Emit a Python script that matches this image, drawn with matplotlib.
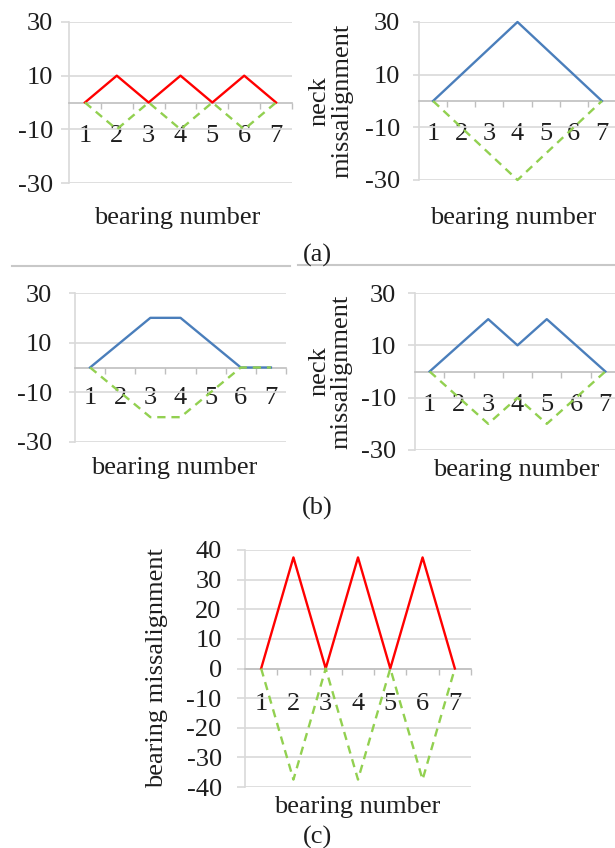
import numpy as np
import matplotlib
matplotlib.use("Agg")
from matplotlib import pyplot as plt
from matplotlib.lines import Line2D

plt.rcParams['font.family'] = ['Liberation Serif', 'DejaVu Serif']
plt.rcParams['axes.unicode_minus'] = False

# bearing positions along the shaft
bearings = [1, 2, 3, 4, 5, 6, 7]

# (a) alternating bearing offsets / single neck hump
a_left_up = [0, 10, 0, 10, 0, 10, 0]
a_left_down = [0, -10, 0, -10, 0, -10, 0]
a_right_up = [0, 10, 20, 30, 20, 10, 0]
a_right_down = [0, -10, -20, -30, -20, -10, 0]

# (b) flat-top and double-hump neck misalignment
b_left_up = [0, 10, 20, 20, 10, 0, 0]
b_left_down = [0, -10, -20, -20, -10, 0, 0]
b_right_up = [0, 10, 20, 10, 20, 10, 0]
b_right_down = [0, -10, -20, -10, -20, -10, 0]

# (c) large bearing misalignment
c_up = [0, 37.5, 0, 37.5, 0, 37.5, 0]
c_down = [0, -37.5, 0, -37.5, 0, -37.5, 0]

yticks_ab = [-30, -10, 10, 30]
yticks_c = [-40, -30, -20, -10, 0, 10, 20, 30, 40]

RED = '#FF0000'
BLUE = '#4A7EBB'
GREEN = '#92D050'
GRID = '#D9D9D9'
AXIS = '#BFBFBF'
TEXT = '#1E1E1E'
FS = 19

W, H = 615, 848


def add_axes_px(fig, left, top, right, bottom):
    """add an axes given its box in pixels measured from the top-left corner"""
    return fig.add_axes([left / W, 1 - bottom / H, (right - left) / W, (bottom - top) / H])


def style_axes(ax, yticks, ylim, ylen, ypad, xpad):
    """excel-like category chart: x axis crossing at zero, gridlines, outside ticks"""
    ax.set_xlim(0.5, 7.5)
    ax.set_ylim(*ylim)
    ax.set_yticks(yticks)
    ax.grid(axis='y', color=GRID, lw=1.2)
    ax.set_axisbelow(True)
    for side in ['top', 'right']:
        ax.spines[side].set_visible(False)
    ax.spines['bottom'].set_position(('data', 0))
    ax.spines['bottom'].set_color(AXIS)
    ax.spines['bottom'].set_linewidth(1.2)
    ax.spines['left'].set_color(GRID)
    ax.spines['left'].set_linewidth(1.2)
    ax.set_xticks(bearings)
    ax.set_xticks(np.arange(1.5, 8, 1), minor=True)
    ax.tick_params(axis='x', which='major', length=0, pad=xpad, labelsize=FS, labelcolor=TEXT)
    ax.tick_params(axis='x', which='minor', length=4.5, width=1.0, color=AXIS, direction='out')
    ax.tick_params(axis='y', length=ylen, width=1.2, color=GRID, pad=ypad, labelsize=FS, labelcolor=TEXT)


def draw_pair(ax, up, down, up_color):
    ax.plot(bearings, up, color=up_color, lw=1.7, zorder=3, clip_on=False)
    ax.plot(bearings, down, color=GREEN, lw=1.7, ls=(0, (3.5, 2.5)), zorder=4, clip_on=False)


def bearing_label(ax, x, y):
    ax.text(x, y, 'bearing number', transform=ax.transAxes, ha='center', va='center',
            fontsize=FS, color=TEXT)


def neck_label(ax, x, text):
    ax.text(x, 0.5, text, transform=ax.transAxes, ha='center', va='center', rotation=90,
            fontsize=FS, color=TEXT, linespacing=1.0)


fig = plt.figure(figsize=(W / 100, H / 100), dpi=100)

# (a)
ax = add_axes_px(fig, 69, 22, 292, 183)
style_axes(ax, yticks_ab, (-30, 30), 5.8, 5.8, 16)
draw_pair(ax, a_left_up, a_left_down, RED)
bearing_label(ax, 0.487, -0.217)

ax = add_axes_px(fig, 419, 22, 616, 180)
style_axes(ax, yticks_ab, (-30, 30), 4.3, 9.5, 16)
draw_pair(ax, a_right_up, a_right_down, BLUE)
bearing_label(ax, 0.477, -0.24)
neck_label(ax, -0.447, 'neck\nmissalignment')

# (b)
ax = add_axes_px(fig, 75, 293, 286, 442)
style_axes(ax, yticks_ab, (-30, 30), 4.3, 12, 14)
draw_pair(ax, b_left_up, b_left_down, BLUE)
bearing_label(ax, 0.469, -0.176)

ax = add_axes_px(fig, 415, 293, 620, 450)
style_axes(ax, yticks_ab, (-30, 30), 5, 8.5, 16)
draw_pair(ax, b_right_up, b_right_down, BLUE)
bearing_label(ax, 0.496, -0.128)
neck_label(ax, -0.413, 'neck\nmissalignment')

# (c)
ax = add_axes_px(fig, 245, 550, 471, 787)
style_axes(ax, yticks_c, (-40, 40), 5.8, 11, 18)
draw_pair(ax, c_up, c_down, RED)
bearing_label(ax, 0.498, -0.086)
neck_label(ax, -0.39, 'bearing missalignment')

# captions and separator rule under (a)
fig.text(317 / W, 1 - 255 / H, '(a)', ha='center', va='center', fontsize=FS, color=TEXT)
fig.text(317 / W, 1 - 508 / H, '(b)', ha='center', va='center', fontsize=FS, color=TEXT)
fig.text(318 / W, 1 - 837 / H, '(c)', ha='center', va='center', fontsize=FS, color=TEXT)
fig.add_artist(Line2D([12 / W, 290 / W], [1 - 266 / H] * 2, color='#C8C8C8', lw=1.5))
fig.add_artist(Line2D([298 / W, 1], [1 - 265 / H] * 2, color='#C8C8C8', lw=1.5))

fig.savefig('out.png', dpi=100)
